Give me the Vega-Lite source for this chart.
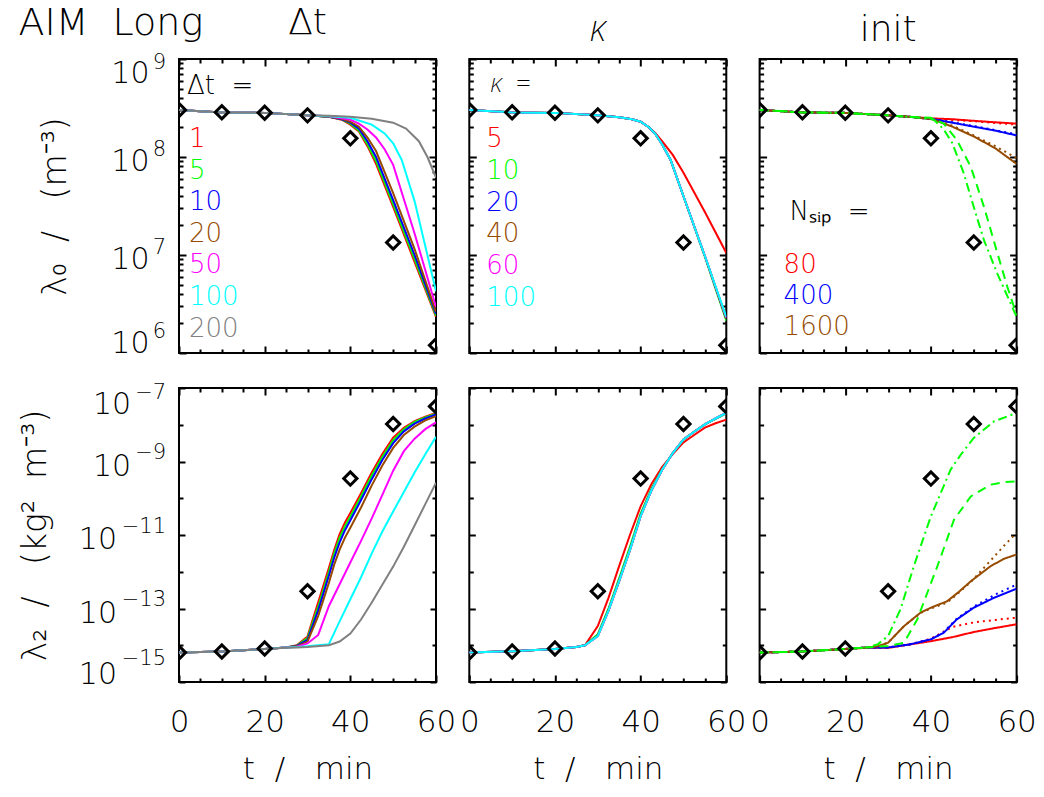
{
"$schema": "https://vega.github.io/schema/vega-lite/v6.json",
"padding": {"left": 18, "top": 4, "right": 8, "bottom": 4},
"title": {"text": "AIM\u00a0\u00a0Long", "anchor": "start", "frame": "bounds", "fontSize": 38, "offset": 0, "dy": 39},
"config": {
  "view": {"stroke": "black", "strokeWidth": 2},
  "font": "DejaVu Sans",
  "title": {"font": "DejaVu Sans", "fontWeight": 200, "color": "black", "fontSize": 36, "offset": 9},
  "axis": {"labelFont": "DejaVu Sans", "titleFont": "DejaVu Sans", "labelFontWeight": 200, "titleFontWeight": 200, "labelColor": "black", "titleColor": "black", "tickColor": "black", "tickWidth": 2, "domain": false, "grid": false},
  "legend": {"labelFont": "DejaVu Sans", "titleFont": "DejaVu Sans", "labelFontWeight": 200, "titleFontWeight": 200, "titleColor": "black", "labelFontSize": 26, "titleFontSize": 26, "symbolSize": 0, "symbolStrokeWidth": 0, "symbolOpacity": 0, "symbolType": "circle", "padding": 0, "rowPadding": 5, "titlePadding": 36, "orient": "none"}
},
"datasets": {
  "obsTop": [{"t":0,"v":3.02e8},{"t":10,"v":2.86e8},{"t":20,"v":2.83e8},{"t":30,"v":2.66e8},{"t":40,"v":1.55e8},{"t":50,"v":1.34e7},{"t":60,"v":1.2e6}],
  "obsBot": [{"t":0,"v":6.31e-15},{"t":10,"v":6.76e-15},{"t":20,"v":8.13e-15},{"t":30,"v":2.95e-13},{"t":40,"v":3.43e-10},{"t":50,"v":1.05e-8},{"t":60,"v":3.16e-8}],
  "p1top": [
    {"s":"1","t":0,"v":3.02e8},{"s":"1","t":10,"v":2.85e8},{"s":"1","t":20,"v":2.82e8},{"s":"1","t":30,"v":2.66e8},{"s":"1","t":35,"v":2.57e8},{"s":"1","t":38,"v":2.40e8},{"s":"1","t":40,"v":2.14e8},{"s":"1","t":42,"v":1.82e8},{"s":"1","t":44,"v":1.29e8},{"s":"1","t":46,"v":8.51e7},{"s":"1","t":50,"v":3.09e7},{"s":"1","t":55,"v":8.51e6},{"s":"1","t":60,"v":2.34e6},
    {"s":"5","t":0,"v":3.02e8},{"s":"5","t":10,"v":2.85e8},{"s":"5","t":20,"v":2.82e8},{"s":"5","t":30,"v":2.66e8},{"s":"5","t":35,"v":2.57e8},{"s":"5","t":38,"v":2.42e8},{"s":"5","t":40,"v":2.19e8},{"s":"5","t":42,"v":1.86e8},{"s":"5","t":44,"v":1.35e8},{"s":"5","t":46,"v":9.12e7},{"s":"5","t":50,"v":3.31e7},{"s":"5","t":55,"v":9.12e6},{"s":"5","t":60,"v":2.40e6},
    {"s":"10","t":0,"v":3.02e8},{"s":"10","t":10,"v":2.85e8},{"s":"10","t":20,"v":2.82e8},{"s":"10","t":30,"v":2.66e8},{"s":"10","t":35,"v":2.57e8},{"s":"10","t":38,"v":2.43e8},{"s":"10","t":40,"v":2.24e8},{"s":"10","t":42,"v":1.95e8},{"s":"10","t":44,"v":1.45e8},{"s":"10","t":46,"v":1.0e8},{"s":"10","t":50,"v":3.63e7},{"s":"10","t":55,"v":1.0e7},{"s":"10","t":60,"v":2.51e6},
    {"s":"20","t":0,"v":3.02e8},{"s":"20","t":10,"v":2.85e8},{"s":"20","t":20,"v":2.82e8},{"s":"20","t":30,"v":2.66e8},{"s":"20","t":35,"v":2.57e8},{"s":"20","t":38,"v":2.45e8},{"s":"20","t":40,"v":2.29e8},{"s":"20","t":42,"v":2.04e8},{"s":"20","t":44,"v":1.58e8},{"s":"20","t":46,"v":1.15e8},{"s":"20","t":50,"v":4.27e7},{"s":"20","t":55,"v":1.15e7},{"s":"20","t":60,"v":2.63e6},
    {"s":"50","t":0,"v":3.02e8},{"s":"50","t":10,"v":2.85e8},{"s":"50","t":20,"v":2.82e8},{"s":"50","t":30,"v":2.66e8},{"s":"50","t":35,"v":2.6e8},{"s":"50","t":38,"v":2.49e8},{"s":"50","t":40,"v":2.40e8},{"s":"50","t":42,"v":2.19e8},{"s":"50","t":44,"v":1.91e8},{"s":"50","t":46,"v":1.58e8},{"s":"50","t":48,"v":1.2e8},{"s":"50","t":50,"v":8.32e7},{"s":"50","t":55,"v":1.66e7},{"s":"50","t":60,"v":2.95e6},
    {"s":"100","t":0,"v":3.02e8},{"s":"100","t":10,"v":2.85e8},{"s":"100","t":20,"v":2.82e8},{"s":"100","t":30,"v":2.66e8},{"s":"100","t":35,"v":2.6e8},{"s":"100","t":40,"v":2.51e8},{"s":"100","t":45,"v":2.14e8},{"s":"100","t":48,"v":1.74e8},{"s":"100","t":50,"v":1.38e8},{"s":"100","t":52,"v":9.33e7},{"s":"100","t":55,"v":3.55e7},{"s":"100","t":57.5,"v":1.23e7},{"s":"100","t":60,"v":4.27e6},
    {"s":"200","t":0,"v":3.02e8},{"s":"200","t":10,"v":2.85e8},{"s":"200","t":20,"v":2.82e8},{"s":"200","t":30,"v":2.66e8},{"s":"200","t":35,"v":2.63e8},{"s":"200","t":40,"v":2.57e8},{"s":"200","t":45,"v":2.45e8},{"s":"200","t":50,"v":2.24e8},{"s":"200","t":53,"v":1.95e8},{"s":"200","t":56,"v":1.45e8},{"s":"200","t":58,"v":1.0e8},{"s":"200","t":60,"v":6.17e7}
  ],
  "p1bot": [
    {"s":"1","t":0,"v":6.31e-15},{"s":"1","t":10,"v":6.76e-15},{"s":"1","t":20,"v":7.94e-15},{"s":"1","t":25,"v":8.71e-15},{"s":"1","t":27.5,"v":1.0e-14},{"s":"1","t":30,"v":1.74e-14},{"s":"1","t":32.5,"v":1.48e-13},{"s":"1","t":35,"v":1.29e-12},{"s":"1","t":36.25,"v":3.98e-12},{"s":"1","t":37.5,"v":1.05e-11},{"s":"1","t":38.75,"v":2.19e-11},{"s":"1","t":40,"v":3.98e-11},{"s":"1","t":42.5,"v":1.38e-10},{"s":"1","t":45,"v":5.01e-10},{"s":"1","t":47.5,"v":1.62e-9},{"s":"1","t":50,"v":4.47e-9},{"s":"1","t":52.5,"v":8.32e-9},{"s":"1","t":55,"v":1.26e-8},{"s":"1","t":57.5,"v":1.66e-8},{"s":"1","t":60,"v":2.09e-8},
    {"s":"5","t":0,"v":6.31e-15},{"s":"5","t":10,"v":6.76e-15},{"s":"5","t":20,"v":7.94e-15},{"s":"5","t":25,"v":8.71e-15},{"s":"5","t":27.5,"v":9.77e-15},{"s":"5","t":30,"v":1.58e-14},{"s":"5","t":32.5,"v":1.12e-13},{"s":"5","t":35,"v":1.0e-12},{"s":"5","t":36.25,"v":3.16e-12},{"s":"5","t":37.5,"v":8.32e-12},{"s":"5","t":38.75,"v":1.74e-11},{"s":"5","t":40,"v":3.16e-11},{"s":"5","t":42.5,"v":1.12e-10},{"s":"5","t":45,"v":4.17e-10},{"s":"5","t":47.5,"v":1.35e-9},{"s":"5","t":50,"v":3.80e-9},{"s":"5","t":52.5,"v":7.59e-9},{"s":"5","t":55,"v":1.20e-8},{"s":"5","t":57.5,"v":1.58e-8},{"s":"5","t":60,"v":2.0e-8},
    {"s":"10","t":0,"v":6.31e-15},{"s":"10","t":10,"v":6.76e-15},{"s":"10","t":20,"v":7.94e-15},{"s":"10","t":25,"v":8.71e-15},{"s":"10","t":27.5,"v":9.55e-15},{"s":"10","t":30,"v":1.41e-14},{"s":"10","t":32.5,"v":8.91e-14},{"s":"10","t":35,"v":7.94e-13},{"s":"10","t":36.25,"v":2.45e-12},{"s":"10","t":37.5,"v":6.31e-12},{"s":"10","t":38.75,"v":1.35e-11},{"s":"10","t":40,"v":2.51e-11},{"s":"10","t":42.5,"v":8.91e-11},{"s":"10","t":45,"v":3.31e-10},{"s":"10","t":47.5,"v":1.12e-9},{"s":"10","t":50,"v":3.16e-9},{"s":"10","t":52.5,"v":6.61e-9},{"s":"10","t":55,"v":1.07e-8},{"s":"10","t":57.5,"v":1.48e-8},{"s":"10","t":60,"v":1.91e-8},
    {"s":"20","t":0,"v":6.31e-15},{"s":"20","t":10,"v":6.76e-15},{"s":"20","t":20,"v":7.94e-15},{"s":"20","t":25,"v":8.71e-15},{"s":"20","t":27.5,"v":9.33e-15},{"s":"20","t":30,"v":1.26e-14},{"s":"20","t":32.5,"v":6.31e-14},{"s":"20","t":35,"v":5.01e-13},{"s":"20","t":36.25,"v":1.58e-12},{"s":"20","t":37.5,"v":3.98e-12},{"s":"20","t":38.75,"v":8.51e-12},{"s":"20","t":40,"v":1.58e-11},{"s":"20","t":42.5,"v":5.62e-11},{"s":"20","t":45,"v":2.24e-10},{"s":"20","t":47.5,"v":7.94e-10},{"s":"20","t":50,"v":2.34e-9},{"s":"20","t":52.5,"v":5.25e-9},{"s":"20","t":55,"v":8.91e-9},{"s":"20","t":57.5,"v":1.32e-8},{"s":"20","t":60,"v":1.70e-8},
    {"s":"50","t":0,"v":6.31e-15},{"s":"50","t":10,"v":6.76e-15},{"s":"50","t":20,"v":7.94e-15},{"s":"50","t":25,"v":8.71e-15},{"s":"50","t":27.5,"v":9.12e-15},{"s":"50","t":30,"v":1.12e-14},{"s":"50","t":32.5,"v":1.91e-14},{"s":"50","t":35,"v":1.17e-13},{"s":"50","t":37.5,"v":4.57e-13},{"s":"50","t":40,"v":1.78e-12},{"s":"50","t":42.5,"v":6.92e-12},{"s":"50","t":45,"v":2.82e-11},{"s":"50","t":47.5,"v":1.26e-10},{"s":"50","t":50,"v":5.62e-10},{"s":"50","t":52.5,"v":1.91e-9},{"s":"50","t":55,"v":4.17e-9},{"s":"50","t":57.5,"v":7.59e-9},{"s":"50","t":60,"v":1.17e-8},
    {"s":"100","t":0,"v":6.31e-15},{"s":"100","t":10,"v":6.76e-15},{"s":"100","t":20,"v":7.94e-15},{"s":"100","t":25,"v":8.71e-15},{"s":"100","t":27.5,"v":8.91e-15},{"s":"100","t":30,"v":9.33e-15},{"s":"100","t":32.5,"v":1.0e-14},{"s":"100","t":35,"v":1.07e-14},{"s":"100","t":37.5,"v":4.47e-14},{"s":"100","t":40,"v":1.78e-13},{"s":"100","t":42.5,"v":7.08e-13},{"s":"100","t":45,"v":3.16e-12},{"s":"100","t":47.5,"v":1.26e-11},{"s":"100","t":50,"v":4.37e-11},{"s":"100","t":52.5,"v":1.48e-10},{"s":"100","t":55,"v":5.01e-10},{"s":"100","t":57.5,"v":1.58e-9},{"s":"100","t":60,"v":4.68e-9},
    {"s":"200","t":0,"v":6.31e-15},{"s":"200","t":10,"v":6.76e-15},{"s":"200","t":20,"v":7.94e-15},{"s":"200","t":25,"v":8.51e-15},{"s":"200","t":27.5,"v":8.71e-15},{"s":"200","t":30,"v":8.91e-15},{"s":"200","t":35,"v":1.0e-14},{"s":"200","t":37.5,"v":1.26e-14},{"s":"200","t":40,"v":2.09e-14},{"s":"200","t":42.5,"v":5.01e-14},{"s":"200","t":45,"v":1.45e-13},{"s":"200","t":47.5,"v":4.47e-13},{"s":"200","t":50,"v":1.38e-12},{"s":"200","t":52.5,"v":4.79e-12},{"s":"200","t":55,"v":1.82e-11},{"s":"200","t":57.5,"v":6.92e-11},{"s":"200","t":60,"v":2.63e-10}
  ],
  "p2top": [
    {"s":"5","t":0,"v":3.02e8},{"s":"5","t":10,"v":2.85e8},{"s":"5","t":20,"v":2.82e8},{"s":"5","t":30,"v":2.66e8},{"s":"5","t":35,"v":2.54e8},{"s":"5","t":38,"v":2.43e8},{"s":"5","t":40,"v":2.29e8},{"s":"5","t":42,"v":2.0e8},{"s":"5","t":43.5,"v":1.74e8},{"s":"5","t":45,"v":1.45e8},{"s":"5","t":47.5,"v":1.05e8},{"s":"5","t":50,"v":6.92e7},{"s":"5","t":55,"v":2.75e7},{"s":"5","t":60,"v":1.05e7},
    {"s":"10","t":0,"v":3.02e8},{"s":"10","t":10,"v":2.85e8},{"s":"10","t":20,"v":2.82e8},{"s":"10","t":30,"v":2.66e8},{"s":"10","t":35,"v":2.54e8},{"s":"10","t":38,"v":2.43e8},{"s":"10","t":40,"v":2.29e8},{"s":"10","t":42,"v":2.0e8},{"s":"10","t":43.5,"v":1.70e8},{"s":"10","t":45,"v":1.35e8},{"s":"10","t":47,"v":9.33e7},{"s":"10","t":50,"v":3.98e7},{"s":"10","t":55,"v":9.55e6},{"s":"10","t":60,"v":2.14e6},
    {"s":"20","t":0,"v":3.02e8},{"s":"20","t":10,"v":2.85e8},{"s":"20","t":20,"v":2.82e8},{"s":"20","t":30,"v":2.66e8},{"s":"20","t":35,"v":2.54e8},{"s":"20","t":38,"v":2.43e8},{"s":"20","t":40,"v":2.29e8},{"s":"20","t":42,"v":2.0e8},{"s":"20","t":43.5,"v":1.70e8},{"s":"20","t":45,"v":1.35e8},{"s":"20","t":47,"v":9.33e7},{"s":"20","t":50,"v":3.98e7},{"s":"20","t":55,"v":9.77e6},{"s":"20","t":60,"v":2.24e6},
    {"s":"40","t":0,"v":3.02e8},{"s":"40","t":10,"v":2.85e8},{"s":"40","t":20,"v":2.82e8},{"s":"40","t":30,"v":2.66e8},{"s":"40","t":35,"v":2.54e8},{"s":"40","t":38,"v":2.43e8},{"s":"40","t":40,"v":2.29e8},{"s":"40","t":42,"v":2.0e8},{"s":"40","t":43.5,"v":1.70e8},{"s":"40","t":45,"v":1.35e8},{"s":"40","t":47,"v":9.33e7},{"s":"40","t":50,"v":3.98e7},{"s":"40","t":55,"v":9.77e6},{"s":"40","t":60,"v":2.24e6},
    {"s":"60","t":0,"v":3.02e8},{"s":"60","t":10,"v":2.85e8},{"s":"60","t":20,"v":2.82e8},{"s":"60","t":30,"v":2.66e8},{"s":"60","t":35,"v":2.54e8},{"s":"60","t":38,"v":2.43e8},{"s":"60","t":40,"v":2.29e8},{"s":"60","t":42,"v":2.0e8},{"s":"60","t":43.5,"v":1.70e8},{"s":"60","t":45,"v":1.35e8},{"s":"60","t":47,"v":9.33e7},{"s":"60","t":50,"v":3.98e7},{"s":"60","t":55,"v":9.77e6},{"s":"60","t":60,"v":2.29e6},
    {"s":"100","t":0,"v":3.02e8},{"s":"100","t":10,"v":2.85e8},{"s":"100","t":20,"v":2.82e8},{"s":"100","t":30,"v":2.66e8},{"s":"100","t":35,"v":2.54e8},{"s":"100","t":38,"v":2.43e8},{"s":"100","t":40,"v":2.29e8},{"s":"100","t":42,"v":2.0e8},{"s":"100","t":43.5,"v":1.70e8},{"s":"100","t":45,"v":1.35e8},{"s":"100","t":47,"v":9.33e7},{"s":"100","t":50,"v":3.98e7},{"s":"100","t":55,"v":9.77e6},{"s":"100","t":60,"v":2.34e6}
  ],
  "p2bot": [
    {"s":"5","t":0,"v":6.31e-15},{"s":"5","t":10,"v":6.92e-15},{"s":"5","t":20,"v":7.94e-15},{"s":"5","t":25,"v":8.91e-15},{"s":"5","t":27,"v":1.0e-14},{"s":"5","t":30,"v":3.31e-14},{"s":"5","t":32.5,"v":1.95e-13},{"s":"5","t":35,"v":1.45e-12},{"s":"5","t":37.5,"v":1.0e-11},{"s":"5","t":40,"v":6.03e-11},{"s":"5","t":42.5,"v":2.40e-10},{"s":"5","t":45,"v":7.08e-10},{"s":"5","t":47.5,"v":1.58e-9},{"s":"5","t":50,"v":3.31e-9},{"s":"5","t":52.5,"v":5.25e-9},{"s":"5","t":55,"v":8.32e-9},{"s":"5","t":57.5,"v":1.10e-8},{"s":"5","t":60,"v":1.38e-8},
    {"s":"10","t":0,"v":6.31e-15},{"s":"10","t":10,"v":6.92e-15},{"s":"10","t":20,"v":7.94e-15},{"s":"10","t":25,"v":8.91e-15},{"s":"10","t":27,"v":1.0e-14},{"s":"10","t":30,"v":2.0e-14},{"s":"10","t":32.5,"v":1.0e-13},{"s":"10","t":35,"v":6.76e-13},{"s":"10","t":37.5,"v":4.79e-12},{"s":"10","t":40,"v":3.80e-11},{"s":"10","t":42.5,"v":1.78e-10},{"s":"10","t":45,"v":6.17e-10},{"s":"10","t":47.5,"v":1.70e-9},{"s":"10","t":50,"v":3.89e-9},{"s":"10","t":52.5,"v":6.46e-9},{"s":"10","t":55,"v":1.02e-8},{"s":"10","t":57.5,"v":1.45e-8},{"s":"10","t":60,"v":2.04e-8},
    {"s":"20","t":0,"v":6.31e-15},{"s":"20","t":10,"v":6.92e-15},{"s":"20","t":20,"v":7.94e-15},{"s":"20","t":25,"v":8.91e-15},{"s":"20","t":27,"v":1.0e-14},{"s":"20","t":30,"v":1.82e-14},{"s":"20","t":32.5,"v":8.91e-14},{"s":"20","t":35,"v":5.75e-13},{"s":"20","t":37.5,"v":3.98e-12},{"s":"20","t":40,"v":3.31e-11},{"s":"20","t":42.5,"v":1.62e-10},{"s":"20","t":45,"v":5.89e-10},{"s":"20","t":47.5,"v":1.70e-9},{"s":"20","t":50,"v":3.98e-9},{"s":"20","t":52.5,"v":6.46e-9},{"s":"20","t":55,"v":1.02e-8},{"s":"20","t":57.5,"v":1.48e-8},{"s":"20","t":60,"v":2.09e-8},
    {"s":"40","t":0,"v":6.31e-15},{"s":"40","t":10,"v":6.92e-15},{"s":"40","t":20,"v":7.94e-15},{"s":"40","t":25,"v":8.91e-15},{"s":"40","t":27,"v":1.0e-14},{"s":"40","t":30,"v":1.78e-14},{"s":"40","t":32.5,"v":8.71e-14},{"s":"40","t":35,"v":5.62e-13},{"s":"40","t":37.5,"v":3.89e-12},{"s":"40","t":40,"v":3.24e-11},{"s":"40","t":42.5,"v":1.62e-10},{"s":"40","t":45,"v":5.89e-10},{"s":"40","t":47.5,"v":1.70e-9},{"s":"40","t":50,"v":3.98e-9},{"s":"40","t":52.5,"v":6.46e-9},{"s":"40","t":55,"v":1.02e-8},{"s":"40","t":57.5,"v":1.48e-8},{"s":"40","t":60,"v":2.09e-8},
    {"s":"60","t":0,"v":6.31e-15},{"s":"60","t":10,"v":6.92e-15},{"s":"60","t":20,"v":7.94e-15},{"s":"60","t":25,"v":8.91e-15},{"s":"60","t":27,"v":1.0e-14},{"s":"60","t":30,"v":1.78e-14},{"s":"60","t":32.5,"v":8.71e-14},{"s":"60","t":35,"v":5.62e-13},{"s":"60","t":37.5,"v":3.89e-12},{"s":"60","t":40,"v":3.24e-11},{"s":"60","t":42.5,"v":1.62e-10},{"s":"60","t":45,"v":5.89e-10},{"s":"60","t":47.5,"v":1.70e-9},{"s":"60","t":50,"v":3.98e-9},{"s":"60","t":52.5,"v":6.46e-9},{"s":"60","t":55,"v":1.02e-8},{"s":"60","t":57.5,"v":1.48e-8},{"s":"60","t":60,"v":2.09e-8},
    {"s":"100","t":0,"v":6.31e-15},{"s":"100","t":10,"v":6.92e-15},{"s":"100","t":20,"v":7.94e-15},{"s":"100","t":25,"v":8.91e-15},{"s":"100","t":27,"v":1.0e-14},{"s":"100","t":30,"v":1.78e-14},{"s":"100","t":32.5,"v":8.71e-14},{"s":"100","t":35,"v":5.62e-13},{"s":"100","t":37.5,"v":3.89e-12},{"s":"100","t":40,"v":3.24e-11},{"s":"100","t":42.5,"v":1.62e-10},{"s":"100","t":45,"v":5.89e-10},{"s":"100","t":47.5,"v":1.70e-9},{"s":"100","t":50,"v":3.98e-9},{"s":"100","t":52.5,"v":6.46e-9},{"s":"100","t":55,"v":1.02e-8},{"s":"100","t":57.5,"v":1.48e-8},{"s":"100","t":60,"v":2.09e-8}
  ],
  "p3top": [
    {"s":"80","d":"solid","t":0,"v":3.02e8},{"s":"80","d":"solid","t":10,"v":2.85e8},{"s":"80","d":"solid","t":20,"v":2.82e8},{"s":"80","d":"solid","t":30,"v":2.66e8},{"s":"80","d":"solid","t":35,"v":2.57e8},{"s":"80","d":"solid","t":40,"v":2.48e8},{"s":"80","d":"solid","t":45,"v":2.43e8},{"s":"80","d":"solid","t":50,"v":2.34e8},{"s":"80","d":"solid","t":55,"v":2.26e8},{"s":"80","d":"solid","t":60,"v":2.19e8},
    {"s":"80","d":"dot","t":0,"v":3.02e8},{"s":"80","d":"dot","t":10,"v":2.85e8},{"s":"80","d":"dot","t":20,"v":2.82e8},{"s":"80","d":"dot","t":30,"v":2.66e8},{"s":"80","d":"dot","t":35,"v":2.57e8},{"s":"80","d":"dot","t":40,"v":2.45e8},{"s":"80","d":"dot","t":50,"v":2.32e8},{"s":"80","d":"dot","t":60,"v":2.14e8},
    {"s":"400","d":"solid","t":0,"v":3.02e8},{"s":"400","d":"solid","t":10,"v":2.85e8},{"s":"400","d":"solid","t":20,"v":2.82e8},{"s":"400","d":"solid","t":30,"v":2.66e8},{"s":"400","d":"solid","t":35,"v":2.57e8},{"s":"400","d":"solid","t":40,"v":2.45e8},{"s":"400","d":"solid","t":45,"v":2.24e8},{"s":"400","d":"solid","t":50,"v":2.04e8},{"s":"400","d":"solid","t":55,"v":1.86e8},{"s":"400","d":"solid","t":60,"v":1.66e8},
    {"s":"400","d":"dot","t":0,"v":3.02e8},{"s":"400","d":"dot","t":10,"v":2.85e8},{"s":"400","d":"dot","t":20,"v":2.82e8},{"s":"400","d":"dot","t":30,"v":2.66e8},{"s":"400","d":"dot","t":35,"v":2.57e8},{"s":"400","d":"dot","t":40,"v":2.45e8},{"s":"400","d":"dot","t":45,"v":2.26e8},{"s":"400","d":"dot","t":50,"v":2.07e8},{"s":"400","d":"dot","t":55,"v":1.88e8},{"s":"400","d":"dot","t":60,"v":1.70e8},
    {"s":"1600","d":"solid","t":0,"v":3.02e8},{"s":"1600","d":"solid","t":10,"v":2.85e8},{"s":"1600","d":"solid","t":20,"v":2.82e8},{"s":"1600","d":"solid","t":30,"v":2.66e8},{"s":"1600","d":"solid","t":35,"v":2.57e8},{"s":"1600","d":"solid","t":40,"v":2.45e8},{"s":"1600","d":"solid","t":45,"v":2.04e8},{"s":"1600","d":"solid","t":50,"v":1.62e8},{"s":"1600","d":"solid","t":55,"v":1.23e8},{"s":"1600","d":"solid","t":60,"v":8.51e7},
    {"s":"1600","d":"dot","t":0,"v":3.02e8},{"s":"1600","d":"dot","t":10,"v":2.85e8},{"s":"1600","d":"dot","t":20,"v":2.82e8},{"s":"1600","d":"dot","t":30,"v":2.66e8},{"s":"1600","d":"dot","t":35,"v":2.57e8},{"s":"1600","d":"dot","t":40,"v":2.45e8},{"s":"1600","d":"dot","t":45,"v":2.09e8},{"s":"1600","d":"dot","t":50,"v":1.66e8},{"s":"1600","d":"dot","t":55,"v":1.29e8},{"s":"1600","d":"dot","t":60,"v":9.77e7},
    {"s":"g","d":"dash","t":0,"v":3.02e8},{"s":"g","d":"dash","t":10,"v":2.85e8},{"s":"g","d":"dash","t":20,"v":2.82e8},{"s":"g","d":"dash","t":30,"v":2.66e8},{"s":"g","d":"dash","t":35,"v":2.57e8},{"s":"g","d":"dash","t":40,"v":2.51e8},{"s":"g","d":"dash","t":43,"v":2.19e8},{"s":"g","d":"dash","t":46.1,"v":1.48e8},{"s":"g","d":"dash","t":49.3,"v":7.94e7},{"s":"g","d":"dash","t":52.4,"v":3.09e7},{"s":"g","d":"dash","t":55.5,"v":1.05e7},{"s":"g","d":"dash","t":57.8,"v":4.79e6},{"s":"g","d":"dash","t":60,"v":2.45e6},
    {"s":"g","d":"dashdot","t":0,"v":3.02e8},{"s":"g","d":"dashdot","t":10,"v":2.85e8},{"s":"g","d":"dashdot","t":20,"v":2.82e8},{"s":"g","d":"dashdot","t":30,"v":2.66e8},{"s":"g","d":"dashdot","t":35,"v":2.57e8},{"s":"g","d":"dashdot","t":38,"v":2.51e8},{"s":"g","d":"dashdot","t":40.7,"v":2.40e8},{"s":"g","d":"dashdot","t":43,"v":1.91e8},{"s":"g","d":"dashdot","t":45,"v":1.38e8},{"s":"g","d":"dashdot","t":47.7,"v":6.76e7},{"s":"g","d":"dashdot","t":50,"v":3.09e7},{"s":"g","d":"dashdot","t":52.4,"v":1.41e7},{"s":"g","d":"dashdot","t":55.5,"v":6.46e6},{"s":"g","d":"dashdot","t":60,"v":2.34e6}
  ],
  "p3bot": [
    {"s":"80","d":"solid","t":0,"v":6.31e-15},{"s":"80","d":"solid","t":10,"v":6.76e-15},{"s":"80","d":"solid","t":20,"v":7.94e-15},{"s":"80","d":"solid","t":25,"v":8.51e-15},{"s":"80","d":"solid","t":30,"v":8.51e-15},{"s":"80","d":"solid","t":35,"v":1.05e-14},{"s":"80","d":"solid","t":40,"v":1.29e-14},{"s":"80","d":"solid","t":45,"v":1.66e-14},{"s":"80","d":"solid","t":50,"v":2.29e-14},{"s":"80","d":"solid","t":55,"v":2.95e-14},{"s":"80","d":"solid","t":60,"v":3.72e-14},
    {"s":"80","d":"dot","t":0,"v":6.31e-15},{"s":"80","d":"dot","t":10,"v":6.76e-15},{"s":"80","d":"dot","t":20,"v":7.94e-15},{"s":"80","d":"dot","t":25,"v":8.51e-15},{"s":"80","d":"dot","t":30,"v":8.51e-15},{"s":"80","d":"dot","t":35,"v":1.05e-14},{"s":"80","d":"dot","t":40,"v":1.51e-14},{"s":"80","d":"dot","t":42.5,"v":2.19e-14},{"s":"80","d":"dot","t":45,"v":3.16e-14},{"s":"80","d":"dot","t":50,"v":4.17e-14},{"s":"80","d":"dot","t":55,"v":4.90e-14},{"s":"80","d":"dot","t":60,"v":5.62e-14},
    {"s":"400","d":"solid","t":0,"v":6.31e-15},{"s":"400","d":"solid","t":10,"v":6.76e-15},{"s":"400","d":"solid","t":20,"v":7.94e-15},{"s":"400","d":"solid","t":25,"v":8.71e-15},{"s":"400","d":"solid","t":30,"v":8.71e-15},{"s":"400","d":"solid","t":35,"v":1.05e-14},{"s":"400","d":"solid","t":40,"v":1.45e-14},{"s":"400","d":"solid","t":43,"v":2.19e-14},{"s":"400","d":"solid","t":46,"v":5.01e-14},{"s":"400","d":"solid","t":50,"v":1.05e-13},{"s":"400","d":"solid","t":54.7,"v":1.95e-13},{"s":"400","d":"solid","t":60,"v":3.47e-13},
    {"s":"400","d":"dot","t":0,"v":6.31e-15},{"s":"400","d":"dot","t":10,"v":6.76e-15},{"s":"400","d":"dot","t":20,"v":7.94e-15},{"s":"400","d":"dot","t":25,"v":8.71e-15},{"s":"400","d":"dot","t":30,"v":8.71e-15},{"s":"400","d":"dot","t":35,"v":1.05e-14},{"s":"400","d":"dot","t":40,"v":1.45e-14},{"s":"400","d":"dot","t":43,"v":2.29e-14},{"s":"400","d":"dot","t":46,"v":5.25e-14},{"s":"400","d":"dot","t":50,"v":1.12e-13},{"s":"400","d":"dot","t":55,"v":2.40e-13},{"s":"400","d":"dot","t":60,"v":4.47e-13},
    {"s":"1600","d":"solid","t":0,"v":6.31e-15},{"s":"1600","d":"solid","t":10,"v":6.76e-15},{"s":"1600","d":"solid","t":20,"v":7.94e-15},{"s":"1600","d":"solid","t":25,"v":8.71e-15},{"s":"1600","d":"solid","t":27.5,"v":9.33e-15},{"s":"1600","d":"solid","t":30,"v":1.17e-14},{"s":"1600","d":"solid","t":33.7,"v":3.31e-14},{"s":"1600","d":"solid","t":37.6,"v":7.76e-14},{"s":"1600","d":"solid","t":40,"v":1.05e-13},{"s":"1600","d":"solid","t":43.8,"v":1.58e-13},{"s":"1600","d":"solid","t":46.5,"v":2.82e-13},{"s":"1600","d":"solid","t":49.3,"v":5.50e-13},{"s":"1600","d":"solid","t":53.9,"v":1.41e-12},{"s":"1600","d":"solid","t":57,"v":2.24e-12},{"s":"1600","d":"solid","t":60,"v":2.95e-12},
    {"s":"1600","d":"dot","t":0,"v":6.31e-15},{"s":"1600","d":"dot","t":10,"v":6.76e-15},{"s":"1600","d":"dot","t":20,"v":7.94e-15},{"s":"1600","d":"dot","t":25,"v":8.71e-15},{"s":"1600","d":"dot","t":27.5,"v":9.33e-15},{"s":"1600","d":"dot","t":30,"v":1.17e-14},{"s":"1600","d":"dot","t":33.7,"v":3.31e-14},{"s":"1600","d":"dot","t":37.6,"v":7.59e-14},{"s":"1600","d":"dot","t":40,"v":1.0e-13},{"s":"1600","d":"dot","t":43.8,"v":1.45e-13},{"s":"1600","d":"dot","t":46.5,"v":2.69e-13},{"s":"1600","d":"dot","t":49.3,"v":5.25e-13},{"s":"1600","d":"dot","t":53.9,"v":2.0e-12},{"s":"1600","d":"dot","t":57,"v":5.01e-12},{"s":"1600","d":"dot","t":60,"v":1.15e-11},
    {"s":"g","d":"dash","t":0,"v":6.31e-15},{"s":"g","d":"dash","t":10,"v":6.76e-15},{"s":"g","d":"dash","t":20,"v":7.94e-15},{"s":"g","d":"dash","t":25,"v":8.71e-15},{"s":"g","d":"dash","t":30,"v":9.55e-15},{"s":"g","d":"dash","t":33.7,"v":1.17e-14},{"s":"g","d":"dash","t":36.8,"v":5.01e-14},{"s":"g","d":"dash","t":41.5,"v":1.41e-12},{"s":"g","d":"dash","t":45.4,"v":2.63e-11},{"s":"g","d":"dash","t":49.3,"v":1.12e-10},{"s":"g","d":"dash","t":53.9,"v":2.34e-10},{"s":"g","d":"dash","t":57,"v":2.75e-10},{"s":"g","d":"dash","t":60,"v":2.88e-10},
    {"s":"g","d":"dashdot","t":0,"v":6.31e-15},{"s":"g","d":"dashdot","t":10,"v":6.76e-15},{"s":"g","d":"dashdot","t":20,"v":7.94e-15},{"s":"g","d":"dashdot","t":25,"v":8.71e-15},{"s":"g","d":"dashdot","t":27.5,"v":1.05e-14},{"s":"g","d":"dashdot","t":30,"v":1.78e-14},{"s":"g","d":"dashdot","t":32.9,"v":9.55e-14},{"s":"g","d":"dashdot","t":36,"v":1.41e-12},{"s":"g","d":"dashdot","t":40,"v":3.24e-11},{"s":"g","d":"dashdot","t":44.6,"v":6.03e-10},{"s":"g","d":"dashdot","t":47,"v":1.55e-9},{"s":"g","d":"dashdot","t":50,"v":4.37e-9},{"s":"g","d":"dashdot","t":54.7,"v":1.23e-8},{"s":"g","d":"dashdot","t":60,"v":2.09e-8}
  ]
},
"columns": 3,
"spacing": {"row": 35, "column": 33.3},
"bounds": "flush",
"resolve": {"scale": {"color": "independent", "strokeDash": "independent", "x": "independent", "y": "independent"}, "legend": {"color": "independent", "strokeDash": "independent"}},
"concat": [
  {
    "title": {"text": "Δt"},
    "width": 257, "height": 294,
    "resolve": {"axis": {"x": "independent", "y": "independent"}},
    "layer": [
      {"data": {"name": "p1top"}, "mark": {"type": "line", "clip": true, "strokeWidth": 2},
       "encoding": {
         "x": {"field": "t", "type": "quantitative", "scale": {"domain": [0, 60], "nice": false, "zero": false},
               "axis": {"orient": "bottom", "values": [0,5,10,15,20,25,30,35,40,45,50,55,60], "labels": false, "title": null, "tickSize": {"condition": {"test": "datum.value % 20 == 0", "value": -7}, "value": -4}}},
         "y": {"field": "v", "type": "quantitative", "scale": {"type": "log", "domain": [1e6, 1e9], "nice": false},
               "axis": {"orient": "left", "values": [1e6,2e6,3e6,4e6,5e6,6e6,7e6,8e6,9e6,1e7,2e7,3e7,4e7,5e7,6e7,7e7,8e7,9e7,1e8,2e8,3e8,4e8,5e8,6e8,7e8,8e8,9e8,1e9],
                        "tickSize": {"condition": {"test": "datum.value == 1e6 || datum.value == 1e7 || datum.value == 1e8 || datum.value == 1e9", "value": -7}, "value": -4},
                        "labelExpr": "(datum.value == 1e6 || datum.value == 1e7 || datum.value == 1e8 || datum.value == 1e9) ? '10' : ''",
                        "labelFontSize": 30, "labelAlign": "right", "labelBaseline": "middle", "labelPadding": 37,
                        "labelOffset": {"condition": [{"test": "datum.value == 1e9", "value": 14.7}, {"test": "datum.value == 1e6", "value": -9.3}], "value": 4.5},
                        "labelOverlap": false, "labelFlush": false, "labelBound": false,
                        "title": "λ₀\u00a0\u00a0/\u00a0\u00a0\u00a0(m⁻³)", "titleFontSize": 33, "titlePadding": 38}},
         "color": {"field": "s", "type": "nominal", "scale": {"domain": ["1","5","10","20","50","100","200"], "range": ["#ff0000","#00ff00","#0000ff","#964b00","#ff00ff","#00ffff","#808080"]},
                   "legend": {"title": "Δt\u00a0\u00a0=", "legendX": 8, "legendY": 14, "labelOffset": -24, "titlePadding": 27, "rowPadding": 5.6,
                              "labelColor": {"expr": "datum.value == '1' ? '#ff0000' : datum.value == '5' ? '#00ff00' : datum.value == '10' ? '#0000ff' : datum.value == '20' ? '#964b00' : datum.value == '50' ? '#ff00ff' : datum.value == '100' ? '#00ffff' : '#808080'"}}}
       }},
      {"data": {"name": "obsTop"}, "mark": {"type": "point", "shape": "diamond", "size": 175, "strokeWidth": 3, "color": "black", "filled": false, "opacity": 1, "clip": true},
       "encoding": {
         "x": {"field": "t", "type": "quantitative", "scale": {"domain": [0, 60], "nice": false, "zero": false},
               "axis": {"orient": "top", "values": [0,5,10,15,20,25,30,35,40,45,50,55,60], "labels": false, "title": null, "tickSize": {"condition": {"test": "datum.value % 20 == 0", "value": -7}, "value": -4}}},
         "y": {"field": "v", "type": "quantitative", "scale": {"type": "log", "domain": [1e6, 1e9], "nice": false},
               "axis": {"orient": "right", "values": [1e6,2e6,3e6,4e6,5e6,6e6,7e6,8e6,9e6,1e7,2e7,3e7,4e7,5e7,6e7,7e7,8e7,9e7,1e8,2e8,3e8,4e8,5e8,6e8,7e8,8e8,9e8,1e9], "labels": false, "title": null,
                        "tickSize": {"condition": {"test": "datum.value == 1e6 || datum.value == 1e7 || datum.value == 1e8 || datum.value == 1e9", "value": -7}, "value": -4}}}
       }},
      {"data": {"name": "obsTop"}, "mark": {"type": "point", "opacity": 0, "clip": true},
       "encoding": {
         "x": {"field": "t", "type": "quantitative", "scale": {"domain": [0, 60], "nice": false, "zero": false}, "axis": null},
         "y": {"field": "v", "type": "quantitative", "scale": {"type": "log", "domain": [1e6, 1e9], "nice": false},
               "axis": {"orient": "left", "values": [1e6,1e7,1e8,1e9], "ticks": true, "tickOpacity": 0, "tickSize": 0, "title": null,
                        "labelExpr": "format(round(log(datum.value)/LN10), 'd')",
                        "labelFontSize": 21, "labelAlign": "right", "labelBaseline": "middle", "labelPadding": 13.4,
                        "labelOffset": {"condition": [{"test": "datum.value == 1e9", "value": 3.2}, {"test": "datum.value == 1e6", "value": -21.6}], "value": -7.6},
                        "labelOverlap": false, "labelFlush": false, "labelBound": false}}
       }}
    ]
  },
  {
    "title": {"text": "κ", "fontStyle": "italic", "font": "Noto Sans", "fontWeight": 200},
    "width": 257, "height": 294,
    "resolve": {"axis": {"x": "independent", "y": "independent"}},
    "layer": [
      {"data": {"name": "p2top"}, "mark": {"type": "line", "clip": true, "strokeWidth": 2},
       "encoding": {
         "x": {"field": "t", "type": "quantitative", "scale": {"domain": [0, 60], "nice": false, "zero": false},
               "axis": {"orient": "bottom", "values": [0,5,10,15,20,25,30,35,40,45,50,55,60], "labels": false, "title": null, "tickSize": {"condition": {"test": "datum.value % 20 == 0", "value": -7}, "value": -4}}},
         "y": {"field": "v", "type": "quantitative", "scale": {"type": "log", "domain": [1e6, 1e9], "nice": false},
               "axis": {"orient": "left", "values": [1e6,2e6,3e6,4e6,5e6,6e6,7e6,8e6,9e6,1e7,2e7,3e7,4e7,5e7,6e7,7e7,8e7,9e7,1e8,2e8,3e8,4e8,5e8,6e8,7e8,8e8,9e8,1e9], "labels": false, "title": null,
                        "tickSize": {"condition": {"test": "datum.value == 1e6 || datum.value == 1e7 || datum.value == 1e8 || datum.value == 1e9", "value": -7}, "value": -4}}},
         "color": {"field": "s", "type": "nominal", "scale": {"domain": ["5","10","20","40","60","100"], "range": ["#ff0000","#00ff00","#0000ff","#964b00","#ff00ff","#00ffff"]},
                   "legend": {"title": "κ\u00a0\u00a0=", "titleFont": "Noto Sans", "titleFontStyle": "italic", "titleFontWeight": 200, "legendX": 21, "legendY": 12, "labelOffset": -30, "titlePadding": 29, "rowPadding": 5.8,
                              "labelColor": {"expr": "datum.value == '5' ? '#ff0000' : datum.value == '10' ? '#00ff00' : datum.value == '20' ? '#0000ff' : datum.value == '40' ? '#964b00' : datum.value == '60' ? '#ff00ff' : '#00ffff'"}}}
       }},
      {"data": {"name": "obsTop"}, "mark": {"type": "point", "shape": "diamond", "size": 175, "strokeWidth": 3, "color": "black", "filled": false, "opacity": 1, "clip": true},
       "encoding": {
         "x": {"field": "t", "type": "quantitative", "scale": {"domain": [0, 60], "nice": false, "zero": false},
               "axis": {"orient": "top", "values": [0,5,10,15,20,25,30,35,40,45,50,55,60], "labels": false, "title": null, "tickSize": {"condition": {"test": "datum.value % 20 == 0", "value": -7}, "value": -4}}},
         "y": {"field": "v", "type": "quantitative", "scale": {"type": "log", "domain": [1e6, 1e9], "nice": false},
               "axis": {"orient": "right", "values": [1e6,2e6,3e6,4e6,5e6,6e6,7e6,8e6,9e6,1e7,2e7,3e7,4e7,5e7,6e7,7e7,8e7,9e7,1e8,2e8,3e8,4e8,5e8,6e8,7e8,8e8,9e8,1e9], "labels": false, "title": null,
                        "tickSize": {"condition": {"test": "datum.value == 1e6 || datum.value == 1e7 || datum.value == 1e8 || datum.value == 1e9", "value": -7}, "value": -4}}}
       }}
    ]
  },
  {
    "title": {"text": "init"},
    "width": 257, "height": 294,
    "resolve": {"axis": {"x": "independent", "y": "independent"}},
    "layer": [
      {"data": {"name": "p3top"}, "mark": {"type": "line", "clip": true, "strokeWidth": 2},
       "encoding": {
         "x": {"field": "t", "type": "quantitative", "scale": {"domain": [0, 60], "nice": false, "zero": false},
               "axis": {"orient": "bottom", "values": [0,5,10,15,20,25,30,35,40,45,50,55,60], "labels": false, "title": null, "tickSize": {"condition": {"test": "datum.value % 20 == 0", "value": -7}, "value": -4}}},
         "y": {"field": "v", "type": "quantitative", "scale": {"type": "log", "domain": [1e6, 1e9], "nice": false},
               "axis": {"orient": "left", "values": [1e6,2e6,3e6,4e6,5e6,6e6,7e6,8e6,9e6,1e7,2e7,3e7,4e7,5e7,6e7,7e7,8e7,9e7,1e8,2e8,3e8,4e8,5e8,6e8,7e8,8e8,9e8,1e9], "labels": false, "title": null,
                        "tickSize": {"condition": {"test": "datum.value == 1e6 || datum.value == 1e7 || datum.value == 1e8 || datum.value == 1e9", "value": -7}, "value": -4}}},
         "color": {"field": "s", "type": "nominal", "scale": {"domain": ["80","400","1600","g"], "range": ["#ff0000","#0000ff","#964b00","#00ff00"]},
                   "legend": {"title": "Nₛᵢₚ\u00a0\u00a0=", "values": ["80","400","1600"], "legendX": 30, "legendY": 140, "titlePadding": 27, "labelOffset": -32,
                              "labelColor": {"expr": "datum.value == '80' ? '#ff0000' : datum.value == '400' ? '#0000ff' : '#964b00'"}}},
         "strokeDash": {"field": "d", "type": "nominal", "scale": {"domain": ["solid","dot","dash","dashdot"], "range": [[1,0],[2,4],[9,6],[9,4,2,4]]}, "legend": null}
       }},
      {"data": {"name": "obsTop"}, "mark": {"type": "point", "shape": "diamond", "size": 175, "strokeWidth": 3, "color": "black", "filled": false, "opacity": 1, "clip": true},
       "encoding": {
         "x": {"field": "t", "type": "quantitative", "scale": {"domain": [0, 60], "nice": false, "zero": false},
               "axis": {"orient": "top", "values": [0,5,10,15,20,25,30,35,40,45,50,55,60], "labels": false, "title": null, "tickSize": {"condition": {"test": "datum.value % 20 == 0", "value": -7}, "value": -4}}},
         "y": {"field": "v", "type": "quantitative", "scale": {"type": "log", "domain": [1e6, 1e9], "nice": false},
               "axis": {"orient": "right", "values": [1e6,2e6,3e6,4e6,5e6,6e6,7e6,8e6,9e6,1e7,2e7,3e7,4e7,5e7,6e7,7e7,8e7,9e7,1e8,2e8,3e8,4e8,5e8,6e8,7e8,8e8,9e8,1e9], "labels": false, "title": null,
                        "tickSize": {"condition": {"test": "datum.value == 1e6 || datum.value == 1e7 || datum.value == 1e8 || datum.value == 1e9", "value": -7}, "value": -4}}}
       }}
    ]
  },
  {
    "width": 257, "height": 294,
    "resolve": {"axis": {"x": "independent", "y": "independent"}},
    "layer": [
      {"data": {"name": "p1bot"}, "mark": {"type": "line", "clip": true, "strokeWidth": 2},
       "encoding": {
         "x": {"field": "t", "type": "quantitative", "scale": {"domain": [0, 60], "nice": false, "zero": false},
               "axis": {"orient": "bottom", "values": [0,5,10,15,20,25,30,35,40,45,50,55,60], "tickSize": {"condition": {"test": "datum.value % 20 == 0", "value": -7}, "value": -4},
                        "labelExpr": "datum.value % 20 == 0 ? datum.label : ''", "labelFontSize": 31, "labelPadding": 32, "labelFlush": false, "labelOverlap": false, "labelBound": false,
                        "title": "t\u00a0\u00a0/\u00a0\u00a0\u00a0min", "titleFontSize": 31, "titlePadding": 14}},
         "y": {"field": "v", "type": "quantitative", "scale": {"type": "log", "domain": [1e-15, 1e-7], "nice": false},
               "axis": {"orient": "left", "values": [1e-15,1e-14,1e-13,1e-12,1e-11,1e-10,1e-9,1e-8,1e-7],
                        "tickSize": {"condition": {"test": "datum.value == 1e-15 || datum.value == 1e-13 || datum.value == 1e-11 || datum.value == 1e-9 || datum.value == 1e-7", "value": -6}, "value": -4},
                        "labelExpr": "(datum.value == 1e-9 || datum.value == 1e-7) ? '10' : ''",
                        "labelFontSize": 30, "labelAlign": "right", "labelBaseline": "middle", "labelPadding": 54.4,
                        "labelOffset": {"condition": {"test": "datum.value == 1e-7", "value": 16}, "value": 4.5},
                        "labelOverlap": false, "labelFlush": false, "labelBound": false,
                        "title": "λ₂\u00a0\u00a0/\u00a0\u00a0\u00a0(kg²\u00a0\u00a0m⁻³)", "titleFontSize": 33, "titlePadding": 40}},
         "color": {"field": "s", "type": "nominal", "scale": {"domain": ["1","5","10","20","50","100","200"], "range": ["#ff0000","#00ff00","#0000ff","#964b00","#ff00ff","#00ffff","#808080"]}, "legend": null}
       }},
      {"data": {"name": "obsBot"}, "mark": {"type": "point", "shape": "diamond", "size": 175, "strokeWidth": 3, "color": "black", "filled": false, "opacity": 1, "clip": true},
       "encoding": {
         "x": {"field": "t", "type": "quantitative", "scale": {"domain": [0, 60], "nice": false, "zero": false},
               "axis": {"orient": "top", "values": [0,5,10,15,20,25,30,35,40,45,50,55,60], "labels": false, "title": null, "tickSize": {"condition": {"test": "datum.value % 20 == 0", "value": -7}, "value": -4}}},
         "y": {"field": "v", "type": "quantitative", "scale": {"type": "log", "domain": [1e-15, 1e-7], "nice": false},
               "axis": {"orient": "right", "values": [1e-15,1e-14,1e-13,1e-12,1e-11,1e-10,1e-9,1e-8,1e-7], "labels": false, "title": null,
                        "tickSize": {"condition": {"test": "datum.value == 1e-15 || datum.value == 1e-13 || datum.value == 1e-11 || datum.value == 1e-9 || datum.value == 1e-7", "value": -6}, "value": -4}}}
       }},
      {"data": {"name": "obsBot"}, "mark": {"type": "point", "opacity": 0, "clip": true},
       "encoding": {
         "x": {"field": "t", "type": "quantitative", "scale": {"domain": [0, 60], "nice": false, "zero": false}, "axis": null},
         "y": {"field": "v", "type": "quantitative", "scale": {"type": "log", "domain": [1e-15, 1e-7], "nice": false},
               "axis": {"orient": "left", "values": [1e-15,1e-13,1e-11,1e-9,1e-7], "ticks": true, "tickOpacity": 0, "tickSize": 0, "title": null,
                        "labelExpr": "'−' + format(-round(log(datum.value)/LN10), 'd')",
                        "labelFontSize": 21, "labelAlign": "right", "labelBaseline": "middle", "labelPadding": 13.4,
                        "labelOffset": {"condition": [{"test": "datum.value == 1e-7", "value": 4}, {"test": "datum.value == 1e-15", "value": -23.6}], "value": -8.6},
                        "labelOverlap": false, "labelFlush": false, "labelBound": false}}
       }},
      {"data": {"name": "obsBot"}, "mark": {"type": "point", "opacity": 0, "clip": true},
       "encoding": {
         "x": {"field": "t", "type": "quantitative", "scale": {"domain": [0, 60], "nice": false, "zero": false}, "axis": null},
         "y": {"field": "v", "type": "quantitative", "scale": {"type": "log", "domain": [1e-15, 1e-7], "nice": false},
               "axis": {"orient": "left", "values": [1e-15,1e-13,1e-11], "ticks": true, "tickOpacity": 0, "tickSize": 0, "title": null,
                        "labelExpr": "'10'",
                        "labelFontSize": 30, "labelAlign": "right", "labelBaseline": "middle", "labelPadding": 62.5,
                        "labelOffset": {"condition": {"test": "datum.value == 1e-15", "value": -8}, "value": 4.5},
                        "labelOverlap": false, "labelFlush": false, "labelBound": false}}
       }}
    ]
  },
  {
    "width": 257, "height": 294,
    "resolve": {"axis": {"x": "independent", "y": "independent"}},
    "layer": [
      {"data": {"name": "p2bot"}, "mark": {"type": "line", "clip": true, "strokeWidth": 2},
       "encoding": {
         "x": {"field": "t", "type": "quantitative", "scale": {"domain": [0, 60], "nice": false, "zero": false},
               "axis": {"orient": "bottom", "values": [0,5,10,15,20,25,30,35,40,45,50,55,60], "tickSize": {"condition": {"test": "datum.value % 20 == 0", "value": -7}, "value": -4},
                        "labelExpr": "datum.value % 20 == 0 ? datum.label : ''", "labelFontSize": 31, "labelPadding": 32, "labelFlush": false, "labelOverlap": false, "labelBound": false,
                        "title": "t\u00a0\u00a0/\u00a0\u00a0\u00a0min", "titleFontSize": 31, "titlePadding": 14}},
         "y": {"field": "v", "type": "quantitative", "scale": {"type": "log", "domain": [1e-15, 1e-7], "nice": false},
               "axis": {"orient": "left", "values": [1e-15,1e-14,1e-13,1e-12,1e-11,1e-10,1e-9,1e-8,1e-7], "labels": false, "title": null,
                        "tickSize": {"condition": {"test": "datum.value == 1e-15 || datum.value == 1e-13 || datum.value == 1e-11 || datum.value == 1e-9 || datum.value == 1e-7", "value": -6}, "value": -4}}},
         "color": {"field": "s", "type": "nominal", "scale": {"domain": ["5","10","20","40","60","100"], "range": ["#ff0000","#00ff00","#0000ff","#964b00","#ff00ff","#00ffff"]}, "legend": null}
       }},
      {"data": {"name": "obsBot"}, "mark": {"type": "point", "shape": "diamond", "size": 175, "strokeWidth": 3, "color": "black", "filled": false, "opacity": 1, "clip": true},
       "encoding": {
         "x": {"field": "t", "type": "quantitative", "scale": {"domain": [0, 60], "nice": false, "zero": false},
               "axis": {"orient": "top", "values": [0,5,10,15,20,25,30,35,40,45,50,55,60], "labels": false, "title": null, "tickSize": {"condition": {"test": "datum.value % 20 == 0", "value": -7}, "value": -4}}},
         "y": {"field": "v", "type": "quantitative", "scale": {"type": "log", "domain": [1e-15, 1e-7], "nice": false},
               "axis": {"orient": "right", "values": [1e-15,1e-14,1e-13,1e-12,1e-11,1e-10,1e-9,1e-8,1e-7], "labels": false, "title": null,
                        "tickSize": {"condition": {"test": "datum.value == 1e-15 || datum.value == 1e-13 || datum.value == 1e-11 || datum.value == 1e-9 || datum.value == 1e-7", "value": -6}, "value": -4}}}
       }}
    ]
  },
  {
    "width": 257, "height": 294,
    "resolve": {"axis": {"x": "independent", "y": "independent"}},
    "layer": [
      {"data": {"name": "p3bot"}, "mark": {"type": "line", "clip": true, "strokeWidth": 2},
       "encoding": {
         "x": {"field": "t", "type": "quantitative", "scale": {"domain": [0, 60], "nice": false, "zero": false},
               "axis": {"orient": "bottom", "values": [0,5,10,15,20,25,30,35,40,45,50,55,60], "tickSize": {"condition": {"test": "datum.value % 20 == 0", "value": -7}, "value": -4},
                        "labelExpr": "datum.value % 20 == 0 ? datum.label : ''", "labelFontSize": 31, "labelPadding": 32, "labelFlush": false, "labelOverlap": false, "labelBound": false,
                        "title": "t\u00a0\u00a0/\u00a0\u00a0\u00a0min", "titleFontSize": 31, "titlePadding": 14}},
         "y": {"field": "v", "type": "quantitative", "scale": {"type": "log", "domain": [1e-15, 1e-7], "nice": false},
               "axis": {"orient": "left", "values": [1e-15,1e-14,1e-13,1e-12,1e-11,1e-10,1e-9,1e-8,1e-7], "labels": false, "title": null,
                        "tickSize": {"condition": {"test": "datum.value == 1e-15 || datum.value == 1e-13 || datum.value == 1e-11 || datum.value == 1e-9 || datum.value == 1e-7", "value": -6}, "value": -4}}},
         "color": {"field": "s", "type": "nominal", "scale": {"domain": ["80","400","1600","g"], "range": ["#ff0000","#0000ff","#964b00","#00ff00"]}, "legend": null},
         "strokeDash": {"field": "d", "type": "nominal", "scale": {"domain": ["solid","dot","dash","dashdot"], "range": [[1,0],[2,4],[9,6],[9,4,2,4]]}, "legend": null}
       }},
      {"data": {"name": "obsBot"}, "mark": {"type": "point", "shape": "diamond", "size": 175, "strokeWidth": 3, "color": "black", "filled": false, "opacity": 1, "clip": true},
       "encoding": {
         "x": {"field": "t", "type": "quantitative", "scale": {"domain": [0, 60], "nice": false, "zero": false},
               "axis": {"orient": "top", "values": [0,5,10,15,20,25,30,35,40,45,50,55,60], "labels": false, "title": null, "tickSize": {"condition": {"test": "datum.value % 20 == 0", "value": -7}, "value": -4}}},
         "y": {"field": "v", "type": "quantitative", "scale": {"type": "log", "domain": [1e-15, 1e-7], "nice": false},
               "axis": {"orient": "right", "values": [1e-15,1e-14,1e-13,1e-12,1e-11,1e-10,1e-9,1e-8,1e-7], "labels": false, "title": null,
                        "tickSize": {"condition": {"test": "datum.value == 1e-15 || datum.value == 1e-13 || datum.value == 1e-11 || datum.value == 1e-9 || datum.value == 1e-7", "value": -6}, "value": -4}}}
       }}
    ]
  }
]
}
